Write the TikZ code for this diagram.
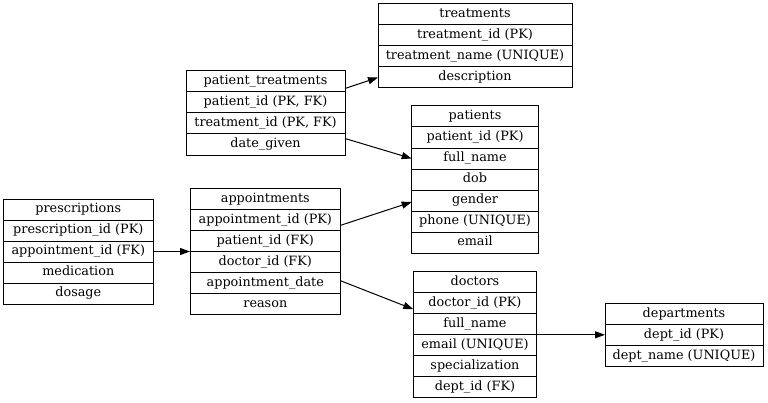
\documentclass[tikz,border=0pt]{standalone}
\usepackage{fontspec}
\setmainfont{DejaVu Serif}
\usetikzlibrary{positioning,calc,arrows.meta}

\begin{document}
\begin{tikzpicture}[x=0.75pt,y=-0.75pt]
        \tikzstyle{every node}=[inner sep=1pt, outer sep=0pt, minimum height=15.75pt, text height=7.4pt, text depth=2.4pt, font=\fontsize{9.6}{11}\selectfont]
        \tikzstyle{table}=[inner sep=0pt, row sep=0pt, anchor=north west]
        \tikzstyle{link}=[line width=0.75pt, -{Triangle[length=7.5pt,width=5.25pt]}]

        \useasboundingbox (0,0) rectangle (768,403);

        % treatments
        \matrix[table, nodes={minimum width=145.5pt}] at (378,4) {
            \node (tr0) {treatments}; \\
            \node (tr1) {treatment\_id (PK)}; \\
            \node (tr2) {treatment\_name (UNIQUE)}; \\
            \node (tr3) {description}; \\
        };

        % patient_treatments
        \matrix[table, nodes={minimum width=119.25pt}] at (186,71) {
            \node (pt0) {patient\_treatments}; \\
            \node (pt1) {patient\_id (PK, FK)}; \\
            \node (pt2) {treatment\_id (PK, FK)}; \\
            \node (pt3) {date\_given}; \\
        };

        % patients
        \matrix[table, nodes={minimum width=95pt}] at (411.7,106) {
            \node (pa0) {patients}; \\
            \node (pa1) {patient\_id (PK)}; \\
            \node (pa2) {full\_name}; \\
            \node (pa3) {dob}; \\
            \node (pa4) {gender}; \\
            \node (pa5) {phone (UNIQUE)}; \\
            \node (pa6) {email}; \\
        };

        % prescriptions
        \matrix[table, nodes={minimum width=112.5pt}] at (3.3,199) {
            \node (pr0) {prescriptions}; \\
            \node (pr1) {prescription\_id (PK)}; \\
            \node (pr2) {appointment\_id (FK)}; \\
            \node (pr3) {medication}; \\
            \node (pr4) {dosage}; \\
        };

        % appointments
        \matrix[table, nodes={minimum width=113pt}] at (190,188.3) {
            \node (ap0) {appointments}; \\
            \node (ap1) {appointment\_id (PK)}; \\
            \node (ap2) {patient\_id (FK)}; \\
            \node (ap3) {doctor\_id (FK)}; \\
            \node (ap4) {appointment\_date}; \\
            \node (ap5) {reason}; \\
        };

        % doctors
        \matrix[table, nodes={minimum width=92.5pt}] at (413.3,271.7) {
            \node (do0) {doctors}; \\
            \node (do1) {doctor\_id (PK)}; \\
            \node (do2) {full\_name}; \\
            \node (do3) {email (UNIQUE)}; \\
            \node (do4) {specialization}; \\
            \node (do5) {dept\_id (FK)}; \\
        };

        % departments
        \matrix[table, nodes={minimum width=118.5pt}] at (605,303.3) {
            \node (de0) {departments}; \\
            \node (de1) {dept\_id (PK)}; \\
            \node (de2) {dept\_name (UNIQUE)}; \\
        };

        % frames and row rules
        \foreach \t/\n in {tr/3, pt/3, pa/6, pr/4, ap/5, do/5, de/2} {
            \draw[line width=0.75pt] (\t0.north west) rectangle (\t\n.south east);
            \foreach \i in {1,...,\n}
                \draw[line width=0.75pt] (\t\i.north west) -- (\t\i.north east);
        }

        % foreign keys
        \draw[link] ($(pt0.east)+(0,7)$) -- (tr3.west);
        \draw[link] ($(pt3.east)+(0,-6)$) -- (pa2.west);
        \draw[link] ($(ap1.east)+(0,5.5)$) -- ($(pa4.west)+(0,1.5)$);
        \draw[link] ($(ap4.east)+(0,-2)$) -- ($(do1.west)+(0,6)$);
        \draw[link] (pr2.east) -- (ap2.west |- pr2.east);
        \draw[link] (de1.west -| do2.east) -- (de1.west);
\end{tikzpicture}
\end{document}
